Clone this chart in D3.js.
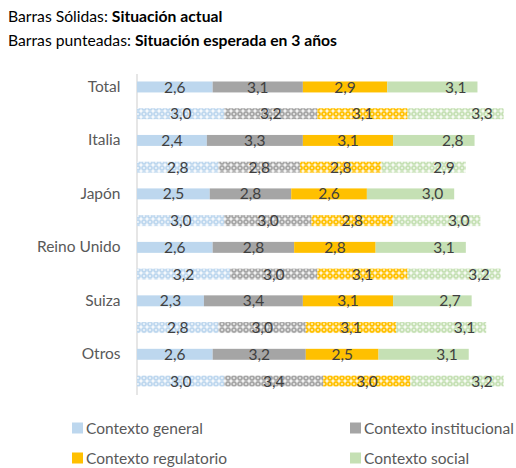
<!DOCTYPE html>
<html><head><meta charset="utf-8">
<script src="https://cdn.jsdelivr.net/npm/d3@7"></script>
<style>body{margin:0;background:#fff} text{font-family:Lato,"Open Sans",sans-serif}</style>
</head><body><svg id="c" width="516" height="468"></svg>
<script>
const categories = ["Total","Italia","Japón","Reino Unido","Suiza","Otros"];
const seriesNames = ["Contexto general","Contexto institucional","Contexto regulatorio","Contexto social"];
const seriesColors = ["#BDD7EE","#A5A5A5","#FFC000","#C5E0B4"];
// Situación actual (barras sólidas)
const generalActual = [2.6,2.4,2.5,2.6,2.3,2.6];
const institucionalActual = [3.1,3.3,2.8,2.8,3.4,3.2];
const regulatorioActual = [2.9,3.1,2.6,2.8,3.1,2.5];
const socialActual = [3.1,2.8,3.0,3.1,2.7,3.1];
// Situación esperada en 3 años (barras punteadas)
const generalEsperada = [3.0,2.8,3.0,3.2,2.8,3.0];
const institucionalEsperada = [3.2,2.8,3.0,3.0,3.0,3.4];
const regulatorioEsperada = [3.1,2.8,2.8,3.1,3.1,3.0];
const socialEsperada = [3.3,2.9,3.0,3.2,3.1,3.2];
const xMax = 13;

const actualSeries = [generalActual,institucionalActual,regulatorioActual,socialActual];
const esperadaSeries = [generalEsperada,institucionalEsperada,regulatorioEsperada,socialEsperada];

const rows = [];
categories.forEach((c,i)=>{
  rows.push({key:c+"|a", cat:c, dashed:false, vals:actualSeries.map(s=>s[i])});
  rows.push({key:c+"|e", cat:c, dashed:true, vals:esperadaSeries.map(s=>s[i])});
});

const svg = d3.select("#c");
const defs = svg.append("defs");
seriesColors.forEach((col,i)=>{
  const p = defs.append("pattern").attr("id","pat"+i).attr("patternUnits","userSpaceOnUse")
    .attr("width",6).attr("height",6);
  p.append("rect").attr("width",6).attr("height",6).attr("fill",col);
  const w = "rgba(255,255,255,0.8)";
  p.append("path").attr("d","M3,1.1 L4.9,3 L3,4.9 L1.1,3 Z").attr("fill",w);
  p.append("path").attr("d","M0,0 L1.3,0 L0,1.3 Z M6,0 L4.7,0 L6,1.3 Z M0,6 L1.3,6 L0,4.7 Z M6,6 L4.7,6 L6,4.7 Z").attr("fill",w);
  p.append("path").attr("d","M0,3 H6 M3,0 V6").attr("stroke","rgba(255,255,255,0.4)").attr("stroke-width",0.8);
});

const x = d3.scaleLinear().domain([0,xMax]).range([137,137+13*29.1]);
const y = d3.scaleBand().domain(rows.map(r=>r.key)).range([73.6,394.4]).paddingInner(0.59).paddingOuter(0.295);

// title
const t1 = svg.append("text").attr("x",8).attr("y",22).attr("font-size",15.7).attr("fill","#000");
t1.append("tspan").text("Barras Sólidas: ");
t1.append("tspan").attr("font-weight","bold").text("Situación actual");
const t2 = svg.append("text").attr("x",8).attr("y",46).attr("font-size",15.7).attr("fill","#000");
t2.append("tspan").text("Barras punteadas: ");
t2.append("tspan").attr("font-weight","bold").text("Situación esperada en 3 años");

// axis
const axis = svg.append("g").attr("transform","translate(136.5,0)")
  .call(d3.axisLeft(y).tickSize(0).tickPadding(16)
    .tickValues(rows.filter(r=>!r.dashed).map(r=>r.key))
    .tickFormat(k=>k.split("|")[0]));
axis.select(".domain").attr("stroke","#D9D9D9").attr("stroke-width",1.3);
axis.selectAll("text").attr("font-size",15.5).attr("fill","#595959").attr("font-family","Lato,'Open Sans',sans-serif");

// bars
const g = svg.append("g");
rows.forEach(r=>{
  let cum = 0;
  r.vals.forEach((v,i)=>{
    const x0 = x(cum), x1 = x(cum+v);
    g.append("rect").attr("x",x0).attr("y",y(r.key)).attr("width",x1-x0).attr("height",y.bandwidth())
      .attr("fill", r.dashed ? `url(#pat${i})` : seriesColors[i]);
    const lx = i===3 ? x1-11 : (x0+x1)/2;
    g.append("text").attr("x",lx).attr("y",y(r.key)+y.bandwidth()/2).attr("dy","0.36em")
      .attr("text-anchor", i===3 ? "end" : "middle").attr("font-size",15.5).attr("fill","#404040")
      .text(d3.format(".1f")(v).replace(".",","));
    cum += v;
  });
});

// legend
const legPos = [[72,428],[350,428],[72,458],[350,458]];
seriesNames.forEach((n,i)=>{
  const [lx,ly] = legPos[i];
  svg.append("rect").attr("x",lx).attr("y",ly-5.5).attr("width",11).attr("height",11).attr("fill",seriesColors[i]);
  svg.append("text").attr("x",lx+14).attr("y",ly).attr("dy","0.36em").attr("font-size",15.5).attr("fill","#595959").text(n);
});
</script></body></html>
